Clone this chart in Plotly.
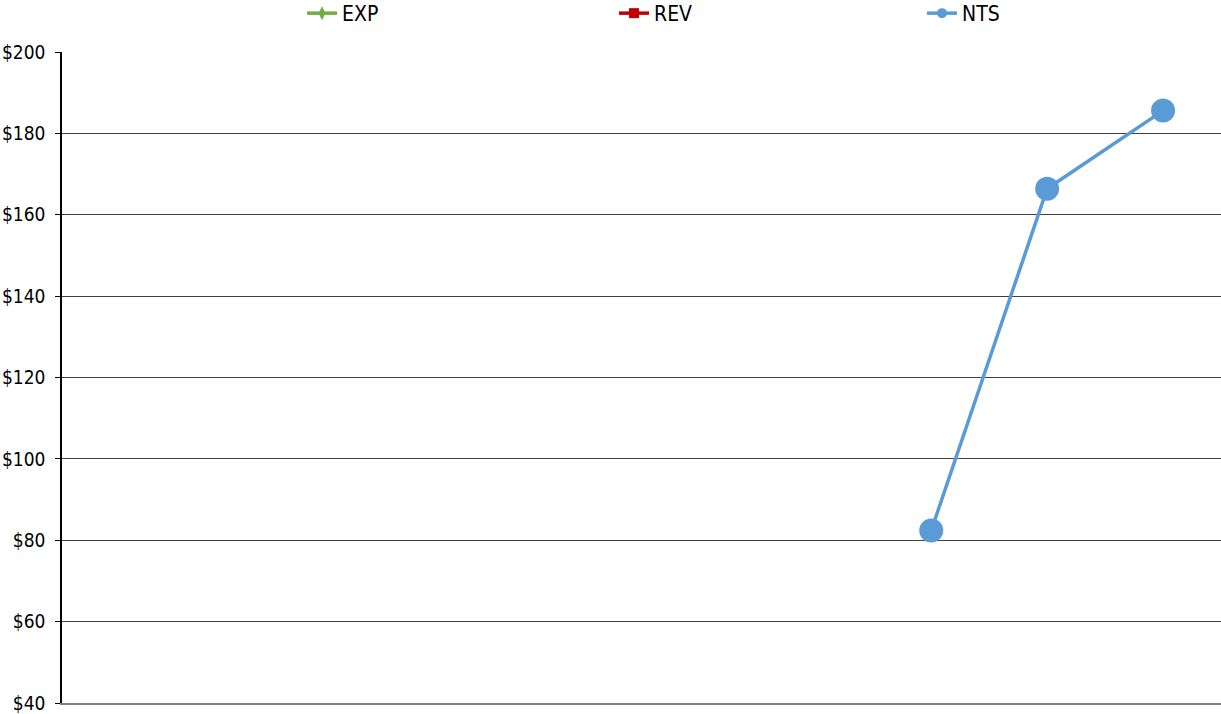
import plotly.graph_objects as go

categories = [1, 2, 3, 4, 5, 6, 7, 8, 9, 10]
exp_values = [None] * 10
rev_values = [None] * 10
nts_values = [None, None, None, None, None, None, None, 82.4, 166.4, 185.6]
y_ticks = [40, 60, 80, 100, 120, 140, 160, 180, 200]
y_tick_labels = ["$" + str(v) for v in y_ticks]

FONT = "DejaVu Sans Condensed, Liberation Sans Narrow, Liberation Sans, Arial, sans-serif"
GREEN = "#70AD47"
RED = "#C00000"
BLUE = "#5B9BD5"

W, H = 1221, 714
L, R, T, B = 62, 0, 52, 11
PW = W - L - R
PH = H - T - B

def px_to_paper_x(px):
    return (px - L) / PW

legend_y = 1 + (T - 13.5) / PH

fig = go.Figure()
fig.add_trace(go.Scatter(x=categories, y=exp_values, name="EXP", mode="lines+markers",
                         line=dict(color=GREEN, width=3.5),
                         marker=dict(symbol="diamond-tall", size=10, color=GREEN),
                         legend="legend"))
fig.add_trace(go.Scatter(x=categories, y=rev_values, name="REV", mode="lines+markers",
                         line=dict(color=RED, width=3.5),
                         marker=dict(symbol="square", size=10, color=RED),
                         legend="legend2"))
fig.add_trace(go.Scatter(x=categories, y=nts_values, name="NTS", mode="lines+markers",
                         line=dict(color=BLUE, width=3.5),
                         marker=dict(symbol="circle", size=24, color=BLUE),
                         showlegend=False, connectgaps=False))
# legend-only entry with a small marker, as in the reference legend
fig.add_trace(go.Scatter(x=categories, y=[None] * 10, name="NTS", mode="lines+markers",
                         line=dict(color=BLUE, width=3.5),
                         marker=dict(symbol="circle", size=10, color=BLUE),
                         legend="legend3"))

def leg(px):
    return dict(orientation="h", x=px_to_paper_x(px), xanchor="left",
                y=legend_y, yanchor="middle", bgcolor="rgba(0,0,0,0)",
                font=dict(family=FONT, size=21, color="black"), itemclick=False,
                borderwidth=0)

fig.update_layout(
    width=W, height=H,
    margin=dict(l=L, r=R, t=T, b=B, autoexpand=False),
    paper_bgcolor="white", plot_bgcolor="white",
    font=dict(family=FONT, size=19, color="black"),
    showlegend=True,
    legend=leg(302),
    legend2=leg(614),
    legend3=leg(922),
)
fig.update_xaxes(type="linear", range=[0.5, 10.5], showticklabels=False, showgrid=False,
                 zeroline=False, showline=True, linecolor="#7F7F7F", linewidth=2,
                 ticks="")
fig.update_yaxes(range=[40, 200], tickvals=y_ticks, ticktext=y_tick_labels,
                 showgrid=True, gridcolor="#404040", gridwidth=1, zeroline=False,
                 showline=True, linecolor="black", linewidth=1.5,
                 ticks="outside", ticklen=5, tickcolor="black", tickwidth=1,
                 ticklabelstandoff=6,
                 tickfont=dict(family=FONT, size=19, color="black"))

fig.write_html("out.html",
               config={"displayModeBar": False},
               post_script="document.body.style.margin='0px';"
                           "document.documentElement.style.overflow='hidden';")
